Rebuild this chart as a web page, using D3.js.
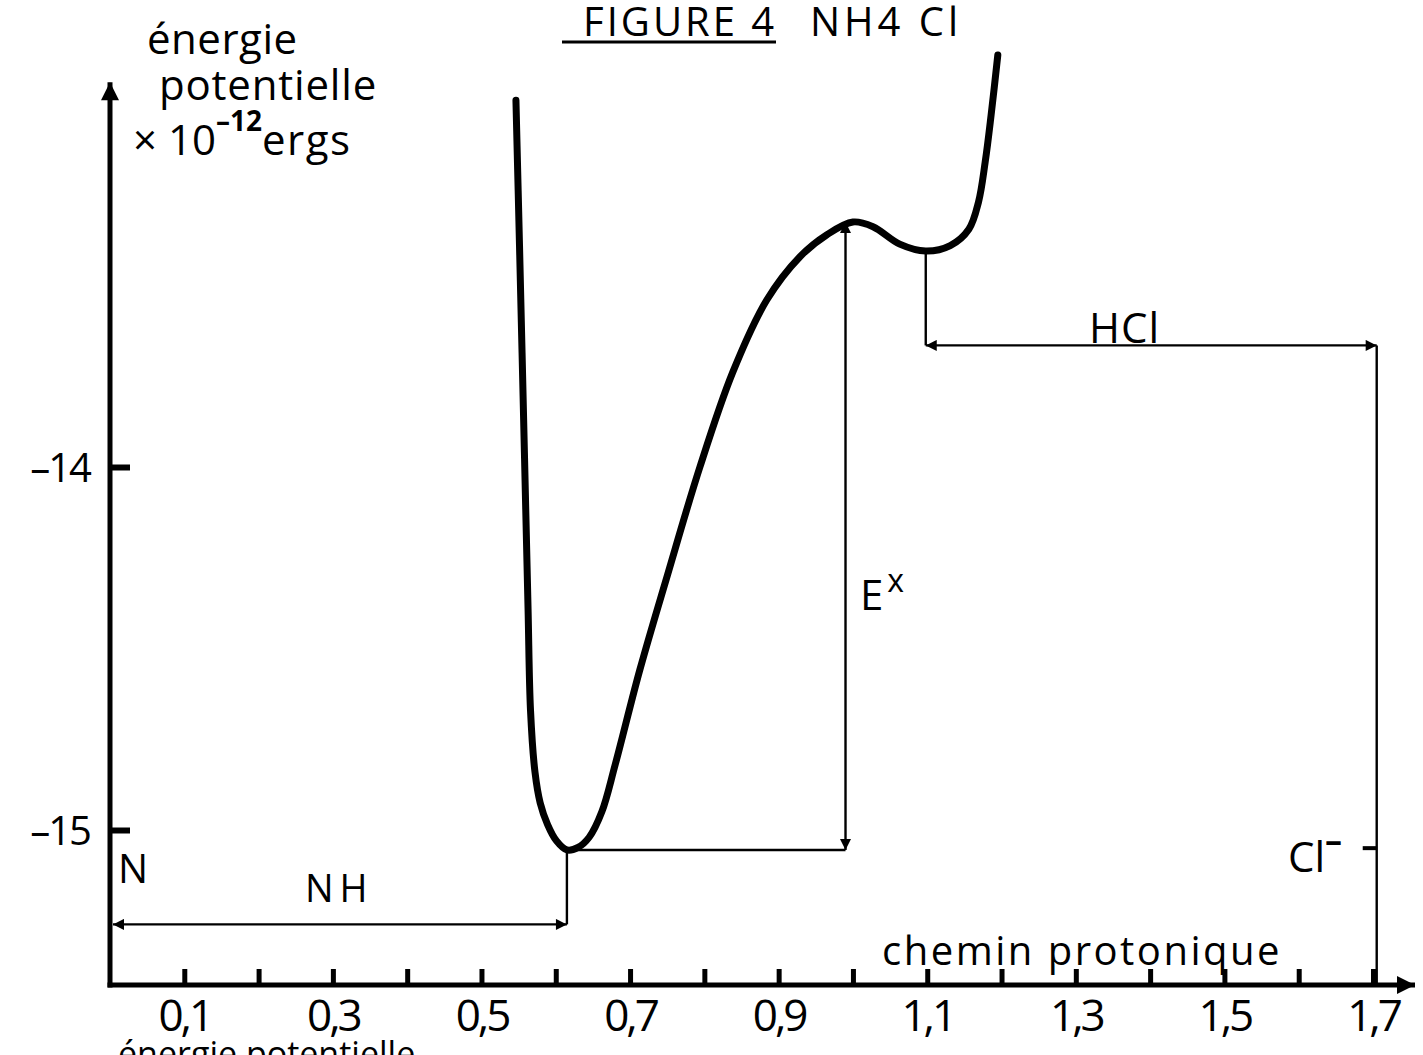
<!DOCTYPE html>
<html>
<head>
<meta charset="utf-8">
<script src="https://cdn.jsdelivr.net/npm/d3@7"></script>
<style>
  html, body { margin: 0; padding: 0; background: #fff; }
  svg { display: block; }
  text { font-family: "Open Sans", "DejaVu Sans", sans-serif; fill: #000; }
</style>
</head>
<body>
<svg id="chart" width="1423" height="1055"></svg>
<script>
// ---- data ----
const curveX = [0.5464, 0.5512, 0.5578, 0.5627, 0.5660, 0.5720, 0.5790, 0.5890, 0.6010, 0.6150, 0.6300, 0.6450, 0.6620, 0.6800, 0.7130, 0.7500, 0.7940, 0.8380, 0.8840, 0.9290, 0.9650, 1.0000, 1.0270, 1.0630, 1.0980, 1.1310, 1.1560, 1.1690, 1.1780, 1.1860, 1.1950];
const curveY = [-12.99, -13.39, -13.96, -14.39, -14.67, -14.84, -14.925, -14.985, -15.03, -15.055, -15.048, -15.02, -14.95, -14.82, -14.56, -14.30, -14.00, -13.74, -13.54, -13.42, -13.36, -13.325, -13.338, -13.386, -13.405, -13.39, -13.345, -13.27, -13.16, -13.03, -12.865];
const xTicks = [0.1, 0.2, 0.3, 0.4, 0.5, 0.6, 0.7, 0.8, 0.9, 1.0, 1.1, 1.2, 1.3, 1.4, 1.5, 1.6, 1.7];
const xTickLabels = ["0,1", "", "0,3", "", "0,5", "", "0,7", "", "0,9", "", "1,1", "", "1,3", "", "1,5", "", "1,7"];
const yTicks = [-14, -15];
const yTickLabels = ["\u201314", "\u201315"];
const minNH = { x: 0.615, y: -15.055 };     // NH well minimum
const peak = { x: 0.99, y: -13.325 };        // barrier top
const minHCl = { x: 1.098, y: -13.405 };     // HCl well minimum
const clX = 1.705;                            // Cl- position
const nhArrowY = -15.26;
const hclArrowY = -13.665;

// ---- scales ----
const x = d3.scaleLinear().domain([0, 1.7]).range([110, 1373]);
const y = d3.scaleLinear().domain([-15, -14]).range([830, 467]);
const yBottom = -15.427, yTop = -12.94;

const svg = d3.select("#chart");
const defs = svg.append("defs");
function marker(id, w, h) {
  defs.append("marker").attr("id", id)
    .attr("viewBox", "0 0 10 10").attr("refX", 10).attr("refY", 5)
    .attr("markerWidth", w).attr("markerHeight", h)
    .attr("markerUnits", "userSpaceOnUse").attr("orient", "auto-start-reverse")
    .append("path").attr("d", "M0,0 L10,5 L0,10 z").attr("fill", "#000");
}
marker("bigArrow", 36, 18);
marker("smallArrow", 24, 11);

// ---- axes ----
svg.append("line")
  .attr("x1", x(0)).attr("y1", y(yBottom) + 2.5).attr("x2", x(0)).attr("y2", y(yTop))
  .attr("stroke", "#000").attr("stroke-width", 5).attr("marker-end", "url(#bigArrow)");
svg.append("line")
  .attr("x1", x(0) - 2.5).attr("y1", y(yBottom)).attr("x2", x(1.7) + 42).attr("y2", y(yBottom))
  .attr("stroke", "#000").attr("stroke-width", 5).attr("marker-end", "url(#bigArrow)");

const xAxis = d3.axisBottom(x).tickValues(xTicks).tickSize(0).tickPadding(0)
  .tickFormat((d, i) => xTickLabels[i]);
const gx = svg.append("g").attr("transform", `translate(0,${y(yBottom)})`).call(xAxis);
gx.select(".domain").remove();
gx.selectAll(".tick line").attr("y1", 0).attr("y2", -16).attr("stroke", "#000").attr("stroke-width", 5);
gx.selectAll(".tick text").attr("y", 46).attr("dy", 0)
  .style("font-size", "44px").style("font-weight", 400).style("letter-spacing", "-3px");

const yAxis = d3.axisLeft(y).tickValues(yTicks).tickSize(0)
  .tickFormat((d, i) => yTickLabels[i]);
const gy = svg.append("g").attr("transform", `translate(${x(0)},0)`).call(yAxis);
gy.select(".domain").remove();
gy.selectAll(".tick line").attr("x1", 0).attr("x2", 20).attr("stroke", "#000").attr("stroke-width", 6);
gy.selectAll(".tick text").attr("x", -20).attr("dy", "0.35em")
  .style("font-size", "40px").style("font-weight", 400).style("letter-spacing", "-2px");

// ---- potential curve ----
const pts = curveX.map((d, i) => [d, curveY[i]]);
svg.append("path").datum(pts)
  .attr("d", d3.line().x(d => x(d[0])).y(d => y(d[1])).curve(d3.curveCatmullRom.alpha(0.5)))
  .attr("fill", "none").attr("stroke", "#000").attr("stroke-width", 7).attr("stroke-linecap", "round");

// ---- annotations ----
function seg(x1, y1, x2, y2, startM, endM) {
  const l = svg.append("line").attr("x1", x1).attr("y1", y1).attr("x2", x2).attr("y2", y2)
    .attr("stroke", "#000").attr("stroke-width", 2.4);
  if (startM) l.attr("marker-start", `url(#${startM})`);
  if (endM) l.attr("marker-end", `url(#${endM})`);
  return l;
}
seg(x(minNH.x), y(minNH.y), x(minNH.x), y(nhArrowY));
seg(x(0) + 3, y(nhArrowY), x(minNH.x), y(nhArrowY), "smallArrow", "smallArrow");
seg(x(minNH.x), y(minNH.y), x(peak.x), y(minNH.y));
seg(x(peak.x), y(minNH.y), x(peak.x), y(peak.y), "smallArrow", "smallArrow");
seg(x(minHCl.x), y(minHCl.y), x(minHCl.x), y(hclArrowY));
seg(x(minHCl.x), y(hclArrowY), x(clX), y(hclArrowY), "smallArrow", "smallArrow");
seg(x(clX), y(hclArrowY), x(clX), y(yBottom));
svg.append("line").attr("x1", x(clX) - 14).attr("x2", x(clX)).attr("y1", y(-15.05)).attr("y2", y(-15.05))
  .attr("stroke", "#000").attr("stroke-width", 4);

// ---- labels ----
function label(txt, px, py, size, anchor, ls) {
  return svg.append("text").attr("x", px).attr("y", py).attr("text-anchor", anchor || "start")
    .style("font-size", size + "px").style("letter-spacing", (ls || 0) + "px").text(txt);
}
label("N", 118, 883, 40);
label("N H", 305, 902, 38, "start", -2);
label("HCl", 1089, 343, 42, "start", 1);
const ex = label("E", 860, 610, 42);
ex.append("tspan").attr("dy", -18).attr("dx", 4).style("font-size", "32px").text("x");
const cl = label("Cl", 1288, 872, 42);
cl.append("tspan").attr("dy", -20).style("font-size", "34px").style("font-weight", 700).text("\u2013");
label("chemin  protonique", 882, 965, 40, "start", 2.5);

// y axis title
label("\u00e9nergie", 147, 54, 42, "start", 0.5);
label("potentielle", 159, 100, 42, "start", 0.8);
const ergs = label("\u00d7 10", 133, 155, 42, "start", 0);
ergs.append("tspan").attr("dy", -24).style("font-size", "28px").style("font-weight", 700).text("\u201312");
ergs.append("tspan").attr("dy", 24).style("letter-spacing", "1.5px").text("ergs");

// title
label("FIGURE  4", 583, 36, 40, "start", 3);
svg.append("line").attr("x1", 562).attr("x2", 776).attr("y1", 42).attr("y2", 42)
  .attr("stroke", "#000").attr("stroke-width", 3);
label("NH4 Cl", 810, 36, 40, "start", 4);

// cut-off caption at bottom
label("\u00e9nergie  potentielle", 118, 1066, 34, "start", 0);
</script>
</body>
</html>
